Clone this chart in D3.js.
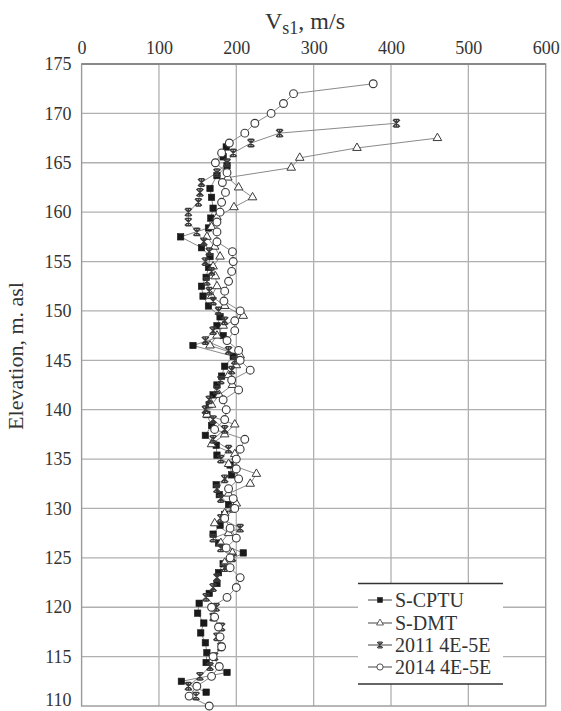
<!DOCTYPE html>
<html>
<head>
<meta charset="utf-8">
<script src="https://cdn.jsdelivr.net/npm/d3@7"></script>
<style>
  html, body { margin: 0; padding: 0; background: #fff; }
  svg { display: block; }
  svg text { font-family: "Liberation Serif", "Times New Roman", Times, Tinos, "Noto Serif", "DejaVu Serif", serif; }
</style>
</head>
<body>
<div id="chart"></div>
<script>
// Vs1 profiles vs elevation, four test series

const xTicks = [0, 100, 200, 300, 400, 500, 600];
const yTicks = [110, 115, 120, 125, 130, 135, 140, 145, 150, 155, 160, 165, 170, 175];

// S-CPTU
const cptuElev = [166.6, 165.6, 164.7, 163.7, 162.4, 161.5, 160.4, 159.4, 158.4, 157.5, 156.4, 155.5, 154.4, 153.4,
  152.5, 151.5, 150.5, 149.4, 148.5, 147.5, 146.5, 145.4, 144.4, 143.4, 142.5, 141.5, 140.5, 139.5, 138.4, 137.4,
  136.4, 135.4, 134.4, 133.4, 132.4, 131.4, 130.4, 129.4, 128.3, 127.4, 126.5, 125.5, 124.4, 123.5, 122.4, 121.4,
  120.4, 119.4, 118.4, 117.4, 116.4, 115.4, 114.4, 113.4, 112.5, 111.4];
const cptuVs = [187, 183, 188, 175, 166, 168, 170, 167, 164, 128, 155, 166, 164, 161,
  155, 157, 164, 179, 175, 183, 144, 196, 185, 181, 175, 170, 165, 162, 168, 160,
  174, 175, 192, 194, 174, 178, 190, 185, 179, 170, 177, 209, 183, 177, 175, 165,
  152, 150, 158, 154, 160, 162, 161, 188, 129, 161];

// S-DMT
const dmtElev = [167.5, 166.5, 165.5, 164.5, 163.5, 162.5, 161.5, 160.5, 159.5, 158.5, 157.5, 156.5, 155.5, 154.5,
  153.5, 152.5, 151.5, 150.5, 149.5, 148.5, 147.5, 146.5, 145.5, 144.5, 143.5, 142.5, 141.5, 140.5, 139.5, 138.5,
  137.5, 136.5, 135.5, 134.5, 133.5, 132.5, 131.5, 130.5, 129.5, 128.5, 127.5, 126.5, 125.5, 124.5];
const dmtVs = [460, 356, 282, 271, 189, 203, 221, 197, 175, 168, 162, 172, 179, 170,
  173, 175, 168, 185, 209, 183, 175, 166, 205, 200, 190, 195, 178, 168, 162, 198,
  185, 168, 198, 190, 226, 218, 190, 200, 185, 172, 190, 180, 195, 185];

// 2011 4E-5E
const s2011Elev = d3.range(169, 110, -1);
const s2011Vs = [407, 256, 219, 196, 188, 175, 155, 153, 151, 138, 138, 149, 158, 165, 160,
  168, 162, 165, 170, 177, 185, 170, 160, 190, 198, 194, 180, 175, 165, 160,
  170, 185, 170, 190, 180, 198, 185, 175, 180, 195, 180, 205, 170, 180, 195,
  185, 175, 170, 161, 174, 170, 181, 175, 180, 172, 166, 153, 138, 148];

// 2014 4E-5E
const s2014Elev = d3.range(173, 109, -1);
const s2014Vs = [377, 274, 261, 245, 224, 211, 191, 181, 173, 188, 182, 186, 181, 179, 175,
  175, 175, 195, 196, 194, 190, 185, 184, 205, 198, 198, 188, 203, 205, 218,
  194, 203, 183, 187, 185, 172, 211, 205, 200, 200, 203, 190, 196, 198, 185,
  192, 200, 187, 192, 192, 205, 200, 188, 168, 172, 177, 179, 181, 170, 178,
  168, 149, 139, 165];

const seriesNames = ["S-CPTU", "S-DMT", "2011 4E-5E", "2014 4E-5E"];

const W = 561, H = 711;
const plotL = 81.6, plotR = 545.7, plotT = 64, plotB = 706;

const x = d3.scaleLinear().domain([0, 600]).range([plotL, plotR]);
const y = d3.scaleLinear().domain([110, 175]).range([plotB, plotT]);

const svg = d3.select("#chart").append("svg")
  .attr("width", W).attr("height", H)
  .attr("viewBox", `0 0 ${W} ${H}`);

// grid
svg.append("g").selectAll("line").data(xTicks.slice(1, -1)).join("line")
  .attr("x1", d => x(d)).attr("x2", d => x(d))
  .attr("y1", plotT).attr("y2", plotB)
  .attr("stroke", "#b0b0b0").attr("stroke-width", 1.3);
svg.append("g").selectAll("line").data(yTicks.slice(1, -1)).join("line")
  .attr("x1", plotL).attr("x2", plotR)
  .attr("y1", d => y(d)).attr("y2", d => y(d))
  .attr("stroke", "#b0b0b0").attr("stroke-width", 1.3);

// frame
svg.append("rect")
  .attr("x", plotL).attr("y", plotT)
  .attr("width", plotR - plotL).attr("height", plotB - plotT)
  .attr("fill", "none").attr("stroke", "#999").attr("stroke-width", 1.4);
svg.append("line")
  .attr("x1", plotL).attr("x2", plotR).attr("y1", plotT).attr("y2", plotT)
  .attr("stroke", "#888").attr("stroke-width", 2);

// axes (labels only)
const xAxis = svg.append("g")
  .attr("transform", `translate(0,${plotT - 10})`)
  .call(d3.axisTop(x).tickValues(xTicks).tickSize(0).tickPadding(0));
xAxis.attr("font-family", null);
xAxis.select(".domain").remove();
xAxis.selectAll("text").attr("font-size", 18).attr("fill", "#333");

const yAxis = svg.append("g")
  .attr("transform", `translate(${plotL - 10},0)`)
  .call(d3.axisLeft(y).tickValues(yTicks).tickSize(0).tickPadding(0));
yAxis.attr("font-family", null);
yAxis.select(".domain").remove();
yAxis.selectAll("text").attr("font-size", 18).attr("fill", "#333")
  .attr("dy", d => d === 110 ? "-0.05em" : "0.32em");

// titles
const title = svg.append("text")
  .attr("x", 265).attr("y", 29)
  .attr("font-size", 24).attr("fill", "#333");
title.append("tspan").text("V");
title.append("tspan").attr("font-size", 18).attr("dy", 5).text("s1");
title.append("tspan").attr("dy", -5).text(", m/s");

svg.append("text")
  .attr("transform", "translate(23,356) rotate(-90)")
  .attr("text-anchor", "middle")
  .attr("font-size", 22).attr("fill", "#333")
  .text("Elevation, m. asl");

// markers
const markerColor = "#3a3a3a";

function drawMarker(g, kind) {
  if (kind === "square") {
    g.append("rect").attr("x", -3.2).attr("y", -3.2).attr("width", 6.4).attr("height", 6.4)
      .attr("fill", "#1a1a1a").attr("stroke", "#1a1a1a").attr("stroke-width", 0.6);
  } else if (kind === "triangle") {
    g.append("path").attr("d", d3.symbol(d3.symbolTriangle, 32)())
      .attr("fill", "#fff").attr("stroke", markerColor).attr("stroke-width", 1);
  } else if (kind === "star") {
    g.append("path").attr("d", "M-3.5,-3.5L3.5,3.5M-3.5,3.5L3.5,-3.5M0,-4L0,4M-2.6,-3.7L2.6,-3.7M-2.6,3.7L2.6,3.7")
      .attr("fill", "none").attr("stroke", markerColor).attr("stroke-width", 1.4);
  } else {
    g.append("circle").attr("r", 3.9)
      .attr("fill", "#fff").attr("stroke", markerColor).attr("stroke-width", 1.1);
  }
}

const series = [
  { elev: cptuElev, vs: cptuVs, kind: "square" },
  { elev: dmtElev, vs: dmtVs, kind: "triangle" },
  { elev: s2011Elev, vs: s2011Vs, kind: "star" },
  { elev: s2014Elev, vs: s2014Vs, kind: "circle" }
];

const line = d3.line().x(d => x(d[1])).y(d => y(d[0]));

series.forEach(s => {
  const pts = s.elev.map((e, i) => [e, s.vs[i]]);
  svg.append("path").datum(pts)
    .attr("d", line)
    .attr("fill", "none").attr("stroke", "#8a8a8a").attr("stroke-width", 1);
});

series.forEach(s => {
  const pts = s.elev.map((e, i) => [e, s.vs[i]]);
  svg.append("g").selectAll("g").data(pts).join("g")
    .attr("transform", d => `translate(${x(d[1])},${y(d[0])})`)
    .each(function () { drawMarker(d3.select(this), s.kind); });
});

// legend
const lg = svg.append("g");
lg.append("rect").attr("x", 358).attr("y", 583).attr("width", 145).attr("height", 101).attr("fill", "#fff");
lg.append("line").attr("x1", 358).attr("x2", 503).attr("y1", 583.5).attr("y2", 583.5)
  .attr("stroke", "#333").attr("stroke-width", 1.6);
lg.append("line").attr("x1", 358).attr("x2", 503).attr("y1", 684).attr("y2", 684)
  .attr("stroke", "#333").attr("stroke-width", 1.6);

const legY = [600, 623, 645, 667];
series.forEach((s, i) => {
  const row = lg.append("g").attr("transform", `translate(0,${legY[i]})`);
  row.append("line").attr("x1", 368).attr("x2", 392).attr("y1", 0).attr("y2", 0)
    .attr("stroke", "#444").attr("stroke-width", 1);
  const m = row.append("g").attr("transform", "translate(380,0) scale(0.8)");
  drawMarker(m, s.kind);
  row.append("text").attr("x", 395).attr("y", 7)
    .attr("font-size", 20).attr("fill", "#333")
    .text(seriesNames[i]);
});
</script>
</body>
</html>
